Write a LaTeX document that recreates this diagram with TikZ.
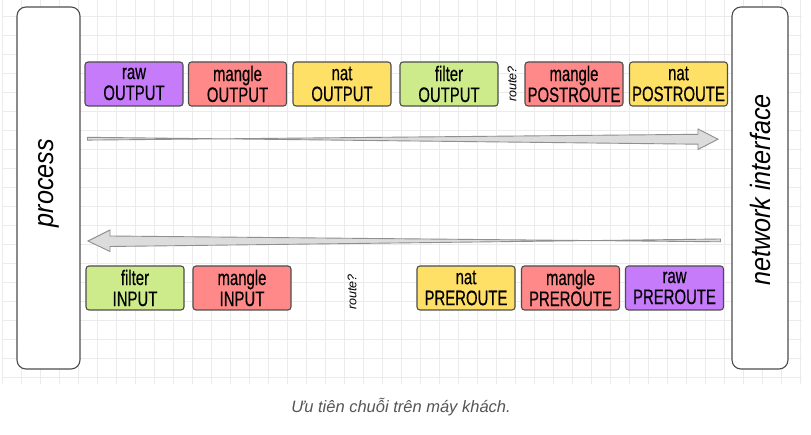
\documentclass[tikz,border=0pt]{standalone}
\usepackage{fontspec}
\setmainfont{Liberation Sans}
\newfontfamily\boxfont[FakeStretch=0.71,FakeBold=0.4]{Liberation Sans}
\newfontfamily\sidefont[FakeStretch=0.9]{Liberation Sans}
\definecolor{gridc}{HTML}{EBEBEB}
\definecolor{rawc}{HTML}{C67BFA}
\definecolor{manglec}{HTML}{FF8888}
\definecolor{natc}{HTML}{FFE066}
\definecolor{filterc}{HTML}{CDEB8B}
\definecolor{edgec}{HTML}{4D4D4D}
\definecolor{arrowfill}{HTML}{DCDCDC}
\definecolor{arrowline}{HTML}{8F8F8F}
\definecolor{capc}{HTML}{555555}
\begin{document}
\begin{tikzpicture}[x=1pt,y=-1pt,
  chainbox/.style={draw=edgec,line width=1.1pt,rounded corners=3pt,minimum width=98pt,minimum height=44pt,
    inner sep=0pt,align=center,text=black,font=\boxfont\fontsize{21}{21}\selectfont},
  sidebox/.style={draw=edgec,line width=1.1pt,rounded corners=9pt,fill=white},
  sidelabel/.style={rotate=90,font=\sidefont\itshape\fontsize{28}{28}\selectfont},
  routelabel/.style={rotate=90,font=\itshape\fontsize{12.5}{12.5}\selectfont},
  bigarrow/.style={fill=arrowfill,draw=arrowline,line width=0.9pt,line join=miter}]
\useasboundingbox (0,0) rectangle (811,435);
\fill[white] (0,0) rectangle (811,435);
% grid
\foreach \i in {0,...,42} \draw[gridc,line width=0.9pt] (2.7+19*\i,0) -- (2.7+19*\i,384);
\foreach \j in {0,...,19} \draw[gridc,line width=0.9pt] (2,16.3+19*\j) -- (802,16.3+19*\j);
% side boxes
\draw[sidebox] (17,7) rectangle (80,369);
\node[sidelabel] (proc) at (48.5,183) {process};
\draw[sidebox] (732,7) rectangle (788,369);
\node[sidelabel] (net) at (760,190) {network interface};
% top row
\node[chainbox,fill=rawc] (rawout) at (134,84) {raw\\OUTPUT};
\node[chainbox,fill=manglec] (mangout) at (237.5,84) {mangle\\OUTPUT};
\node[chainbox,fill=natc] (natout) at (342,84) {nat\\OUTPUT};
\node[chainbox,fill=filterc] (filtout) at (449,84) {filter\\OUTPUT};
\node[routelabel] (route1) at (512,84) {route?};
\node[chainbox,fill=manglec] (mangpost) at (574,84) {mangle\\POSTROUTE};
\node[chainbox,fill=natc] (natpost) at (678.5,84) {nat\\POSTROUTE};
% bottom row
\node[chainbox,fill=filterc] (filtin) at (135,288) {filter\\INPUT};
\node[chainbox,fill=manglec] (mangin) at (242,288) {mangle\\INPUT};
\node[routelabel] (route2) at (352,292) {route?};
\node[chainbox,fill=natc] (natpre) at (466,288) {nat\\PREROUTE};
\node[chainbox,fill=manglec] (mangpre) at (570.5,288) {mangle\\PREROUTE};
\node[chainbox,fill=rawc] (rawpre) at (674.5,288) {raw\\PREROUTE};
% arrows
\coordinate (outtail) at (87.5,138.7);
\coordinate (outtip) at (718,139.2);
\draw[bigarrow] ([yshift=-1.4pt]outtail) -- (698,134.3) -- (698,129) -- (outtip) -- (698,149.5) -- (698,144.2) -- ([yshift=1.4pt]outtail) -- cycle;
\coordinate (intail) at (720.5,240.4);
\coordinate (intip) at (88,241);
\draw[bigarrow] ([yshift=-1.4pt]intail) -- (110,236) -- (110,230) -- (intip) -- (110,251.5) -- (110,246.5) -- ([yshift=1.4pt]intail) -- cycle;
% caption
\node[text=capc,font=\itshape\fontsize{16.5}{16.5}\selectfont,anchor=base] (cap) at (401,412) {Ưu tiên chuỗi trên máy khách.};
\end{tikzpicture}
\end{document}
